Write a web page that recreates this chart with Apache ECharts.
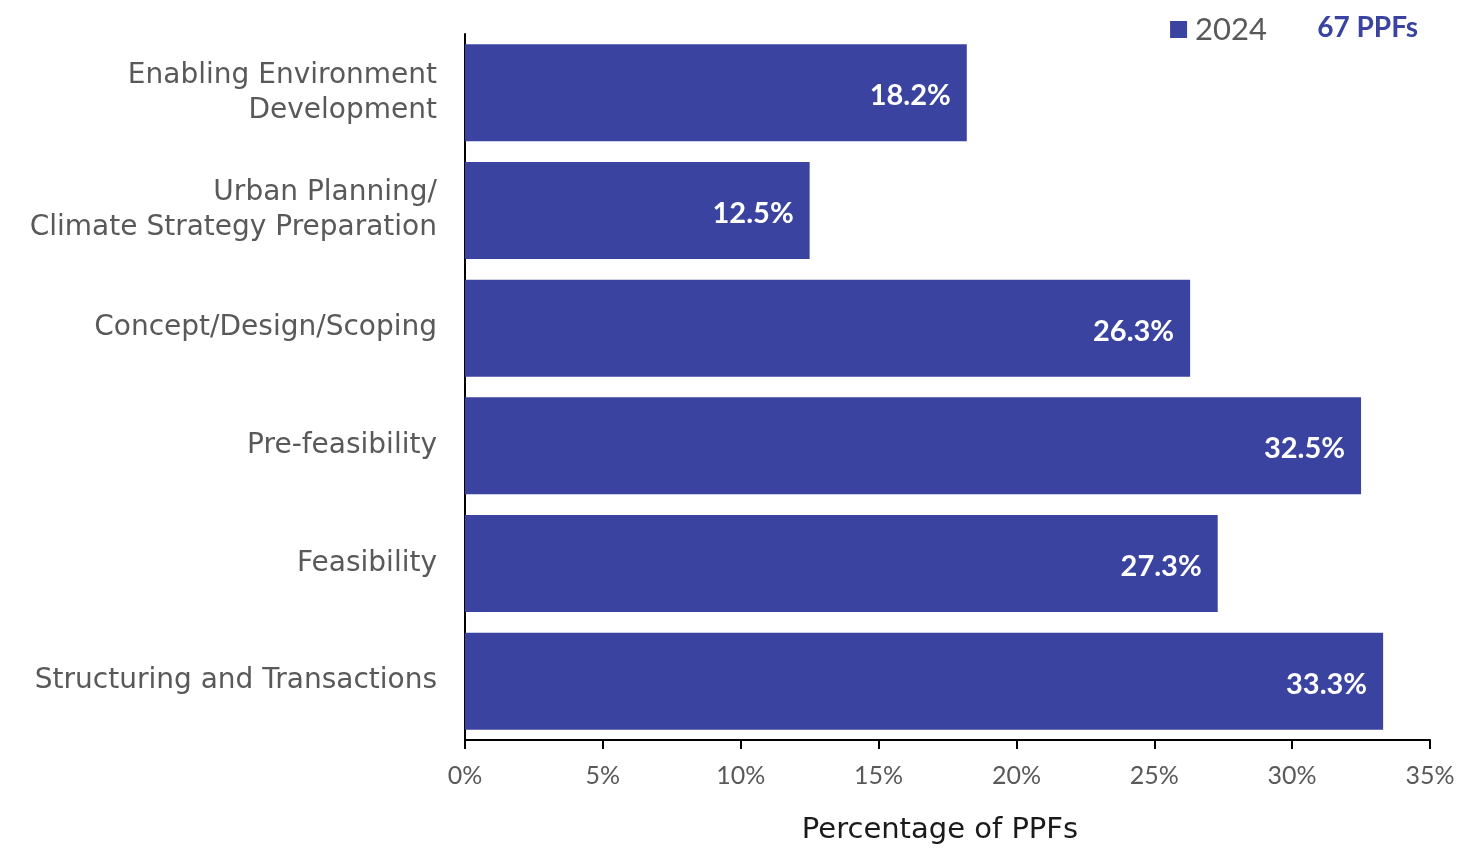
<!DOCTYPE html>
<html>
<head>
<meta charset="utf-8">
<script src="https://cdn.jsdelivr.net/npm/echarts@6/dist/echarts.min.js"></script>
<style>
  html, body { margin: 0; padding: 0; background: #ffffff; }
  #chart { width: 1473px; height: 851px; }
</style>
</head>
<body>
<div id="chart"></div>
<script>
// Share of project preparation facilities (PPFs) by activity stage
const categories = [
  'Enabling Environment\nDevelopment',
  'Urban Planning/\nClimate Strategy Preparation',
  'Concept/Design/Scoping',
  'Pre-feasibility',
  'Feasibility',
  'Structuring and Transactions'
];
const values2024 = [18.2, 12.5, 26.3, 32.5, 27.3, 33.3];
const seriesName = '2024';
const sampleNote = '67 PPFs';
const axisTitle = 'Percentage of PPFs';
const xTicks = { min: 0, max: 35, interval: 5 };

const FONT = 'Lato';
const WIDE = 'DejaVu Sans';
const BAR = '#3A43A0';
const GREY = '#595959';

const chart = echarts.init(document.getElementById('chart'), null, { renderer: 'canvas' });
chart.setOption({
  animation: false,
  backgroundColor: '#ffffff',
  textStyle: { fontFamily: FONT },
  grid: { left: 465, right: 43, top: 34, bottom: 111, containLabel: false },
  legend: {
    data: [seriesName],
    right: 201, top: 9,
    icon: 'rect', itemWidth: 17, itemHeight: 17, itemGap: 8,
    textStyle: { fontFamily: FONT, fontSize: 31, color: GREY, padding: [0, 0, 0, 3] }
  },
  title: {
    text: sampleNote,
    right: 50, top: 9,
    textStyle: { fontFamily: FONT, fontSize: 28, fontWeight: 'bold', color: BAR }
  },
  xAxis: {
    type: 'value',
    min: xTicks.min, max: xTicks.max, interval: xTicks.interval,
    name: axisTitle, nameLocation: 'middle', nameGap: 76,
    nameTextStyle: { fontFamily: WIDE, fontSize: 29, color: '#1a1a1a', padding: [0, 15, 0, 0] },
    axisLine: { show: true, lineStyle: { color: '#000', width: 2 } },
    axisTick: { show: true, length: 9, lineStyle: { color: '#000', width: 2 } },
    axisLabel: { formatter: '{value}%', fontFamily: FONT, fontSize: 25, color: GREY, margin: 23 },
    splitLine: { show: false }
  },
  yAxis: {
    type: 'category',
    data: categories,
    inverse: true,
    axisLine: { show: true, lineStyle: { color: '#000', width: 2 } },
    axisTick: { show: false },
    axisLabel: {
      fontFamily: WIDE, fontSize: 28, color: GREY, margin: 28, lineHeight: 35,
      align: 'right', padding: [6, 0, 0, 0]
    }
  },
  series: [{
    name: seriesName,
    type: 'bar',
    data: values2024,
    barCategoryGap: '17.6%',
    itemStyle: { color: BAR },
    label: {
      show: true, position: 'insideRight', distance: 16, offset: [0, 3],
      formatter: p => p.value.toFixed(1) + '%',
      fontFamily: FONT, fontSize: 29, fontWeight: 'bold', color: '#ffffff'
    }
  }]
});
</script>
</body>
</html>
